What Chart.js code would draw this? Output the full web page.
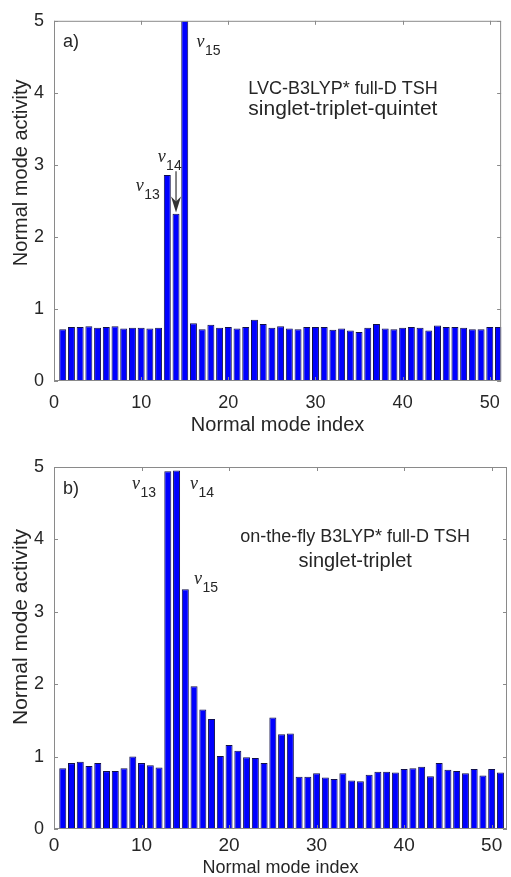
<!DOCTYPE html>
<html>
<head>
<meta charset="utf-8">
<script src="https://cdn.jsdelivr.net/npm/chart.js@4.4.1/dist/chart.umd.min.js"></script>
<style>
  html, body { margin: 0; padding: 0; background: #fff; }
  #wrap { position: relative; width: 511px; height: 877px; }
  .panel { position: absolute; left: 0; width: 511px; }
  #panelA { top: 0; height: 440px; }
  #panelB { top: 440px; height: 437px; }
</style>
</head>
<body>
<div id="wrap">
  <div class="panel" id="panelA"><canvas id="chartA"></canvas></div>
  <div class="panel" id="panelB"><canvas id="chartB"></canvas></div>
</div>
<script>
// normal mode index 1..51
const modeIndex = [1, 2, 3, 4, 5, 6, 7, 8, 9, 10, 11, 12, 13, 14, 15, 16, 17, 18, 19, 20,
    21, 22, 23, 24, 25, 26, 27, 28, 29, 30, 31, 32, 33, 34, 35, 36, 37, 38, 39, 40,
    41, 42, 43, 44, 45, 46, 47, 48, 49, 50, 51];

// a) LVC-B3LYP* full-D TSH, singlet-triplet-quintet
const activityA = [0.72, 0.75, 0.75, 0.76, 0.74, 0.75, 0.76, 0.73, 0.74, 0.74, 0.73, 0.74,
    2.86, 2.32, 5.0, 0.80, 0.72, 0.78, 0.74, 0.75, 0.73, 0.75, 0.85, 0.79, 0.74,
    0.76, 0.73, 0.72, 0.75, 0.75, 0.75, 0.71, 0.73, 0.70, 0.68, 0.74, 0.79, 0.73,
    0.72, 0.74, 0.75, 0.74, 0.70, 0.77, 0.75, 0.75, 0.74, 0.72, 0.72, 0.75, 0.75];

// b) on-the-fly B3LYP* full-D TSH, singlet-triplet
const activityB = [0.84, 0.91, 0.93, 0.87, 0.91, 0.80, 0.80, 0.84, 1.00, 0.91, 0.88, 0.85,
    4.94, 4.95, 3.31, 1.97, 1.65, 1.52, 1.01, 1.16, 1.08, 0.99, 0.98, 0.91, 1.54,
    1.31, 1.32, 0.72, 0.72, 0.77, 0.71, 0.69, 0.77, 0.67, 0.66, 0.75, 0.79, 0.79,
    0.78, 0.83, 0.84, 0.86, 0.73, 0.91, 0.82, 0.80, 0.77, 0.83, 0.74, 0.83, 0.78];

const xTicks = [0, 10, 20, 30, 40, 50];
const yTicks = [0, 1, 2, 3, 4, 5];

const SANS = "'Liberation Sans', Arial, sans-serif";
const SERIF = "'Liberation Serif', 'Times New Roman', serif";
const TEXT = '#262626';
const AXIS = '#8a8a8a';

Chart.defaults.font.family = SANS;
Chart.defaults.color = TEXT;

// box, inward ticks, y title and the text notes
const panelDecor = {
    id: 'panelDecor',
    afterDraw(chart, args, opts) {
        const ctx = chart.ctx;
        const a = chart.chartArea;
        const x = chart.scales.x, y = chart.scales.y;
        ctx.save();

        ctx.strokeStyle = AXIS;
        ctx.lineWidth = 1;
        ctx.strokeRect(a.left + 0.5, a.top + 0.5, a.right - a.left - 1, a.bottom - a.top - 1);
        ctx.beginPath();
        xTicks.forEach(v => {
            const px = Math.round(x.getPixelForValue(v)) + 0.5;
            ctx.moveTo(px, a.bottom); ctx.lineTo(px, a.bottom - 4);
            ctx.moveTo(px, a.top); ctx.lineTo(px, a.top + 4);
        });
        yTicks.forEach(v => {
            const py = Math.round(y.getPixelForValue(v)) + 0.5;
            ctx.moveTo(a.left, py); ctx.lineTo(a.left + 4, py);
            ctx.moveTo(a.right, py); ctx.lineTo(a.right - 4, py);
        });
        ctx.stroke();

        ctx.fillStyle = TEXT;

        // y axis title
        ctx.save();
        ctx.translate(a.left - 27, y.getPixelForValue(opts.yTitleAt));
        ctx.rotate(-Math.PI / 2);
        ctx.font = opts.yTitleSize + 'px ' + SANS;
        ctx.textAlign = 'center';
        ctx.textBaseline = 'alphabetic';
        ctx.fillText('Normal mode activity', 0, 0);
        ctx.restore();

        ctx.textBaseline = 'alphabetic';
        opts.notes.forEach(n => {
            ctx.font = n.size + 'px ' + SANS;
            ctx.textAlign = n.align || 'left';
            ctx.fillText(n.text, x.getPixelForValue(n.x), y.getPixelForValue(n.y));
        });

        ctx.textAlign = 'left';
        opts.nu.forEach(n => {
            const px = x.getPixelForValue(n.x), py = y.getPixelForValue(n.y);
            ctx.font = 'italic 18px ' + SERIF;
            ctx.fillText('\u03BD', px, py);
            const w = ctx.measureText('\u03BD').width;
            ctx.font = '14px ' + SANS;
            ctx.fillText(n.sub, px + w + 0.5, py + 8);
        });

        if (opts.arrow) {
            const ax = x.getPixelForValue(opts.arrow.x);
            const y0 = y.getPixelForValue(opts.arrow.from);
            const y1 = y.getPixelForValue(opts.arrow.to);
            ctx.strokeStyle = '#444';
            ctx.fillStyle = '#333';
            ctx.lineWidth = 1.3;
            ctx.beginPath();
            ctx.moveTo(ax, y0); ctx.lineTo(ax, y1 - 10);
            ctx.stroke();
            ctx.beginPath();
            ctx.moveTo(ax, y1);
            ctx.lineTo(ax - 5, y1 - 16);
            ctx.lineTo(ax, y1 - 11);
            ctx.lineTo(ax + 5, y1 - 16);
            ctx.closePath();
            ctx.fill();
        }
        ctx.restore();
    }
};

function makePanel(id, values, p) {
    const points = modeIndex.map((m, i) => ({ x: m, y: values[i] }));
    return new Chart(document.getElementById(id), {
        type: 'bar',
        data: {
            datasets: [{
                data: points,
                backgroundColor: '#0000ff',
                borderColor: '#10104a',
                borderWidth: 1,
                barPercentage: 0.8,
                categoryPercentage: 1.0
            }]
        },
        options: {
            responsive: true,
            maintainAspectRatio: false,
            animation: false,
            layout: { padding: { left: 0, right: p.padRight, top: p.padTop, bottom: 0 } },
            plugins: {
                legend: { display: false },
                tooltip: { enabled: false },
                panelDecor: p.decor
            },
            scales: {
                x: {
                    type: 'linear',
                    min: 0,
                    max: p.xMax,
                    offset: false,
                    grid: { display: false, drawTicks: false },
                    border: { display: false },
                    afterBuildTicks: s => { s.ticks = xTicks.map(v => ({ value: v })); },
                    afterFit: s => { s.height = p.xHeight; },
                    ticks: { padding: p.xTickPad, font: { size: p.xTickSize }, color: TEXT, maxRotation: 0 },
                    title: {
                        display: true,
                        text: 'Normal mode index',
                        color: TEXT,
                        font: { size: p.xTitleSize, lineHeight: 1 },
                        padding: { top: 0, bottom: p.xTitlePad }
                    }
                },
                y: {
                    min: 0,
                    max: 5,
                    grid: { display: false, drawTicks: false },
                    border: { display: false },
                    afterBuildTicks: s => { s.ticks = yTicks.map(v => ({ value: v })); },
                    afterFit: s => { s.width = 54; },
                    ticks: { padding: 10, font: { size: 18 }, color: TEXT }
                }
            }
        },
        plugins: [panelDecor]
    });
}

makePanel('chartA', activityA, {
    padRight: 8, padTop: 18, xMax: 51.3, xHeight: 59,
    xTickPad: 11, xTickSize: 18, xTitleSize: 20, xTitlePad: 5,
    decor: {
        yTitleAt: 2.89, yTitleSize: 20,
        notes: [
            { text: 'a)', x: 1.03, y: 4.63, size: 18 },
            { text: 'LVC-B3LYP* full-D TSH', x: 22.3, y: 3.98, size: 18 },
            { text: 'singlet-triplet-quintet', x: 22.3, y: 3.69, size: 21 }
        ],
        nu: [
            { sub: '13', x: 9.37, y: 2.64 },
            { sub: '14', x: 11.89, y: 3.04 },
            { sub: '15', x: 16.34, y: 4.63 }
        ],
        arrow: { x: 14, from: 2.91, to: 2.34 }
    }
});

makePanel('chartB', activityB, {
    padRight: 4, padTop: 27, xMax: 51.75, xHeight: 48,
    xTickPad: 5, xTickSize: 19, xTitleSize: 18, xTitlePad: 0,
    decor: {
        yTitleAt: 2.79, yTitleSize: 21,
        notes: [
            { text: 'b)', x: 1.03, y: 4.63, size: 18 },
            { text: 'on-the-fly B3LYP* full-D TSH', x: 34.4, y: 3.96, size: 18, align: 'center' },
            { text: 'singlet-triplet', x: 34.4, y: 3.62, size: 20, align: 'center' }
        ],
        nu: [
            { sub: '13', x: 8.91, y: 4.70 },
            { sub: '14', x: 15.54, y: 4.70 },
            { sub: '15', x: 16.0, y: 3.39 }
        ],
        arrow: null
    }
});
</script>
</body>
</html>
